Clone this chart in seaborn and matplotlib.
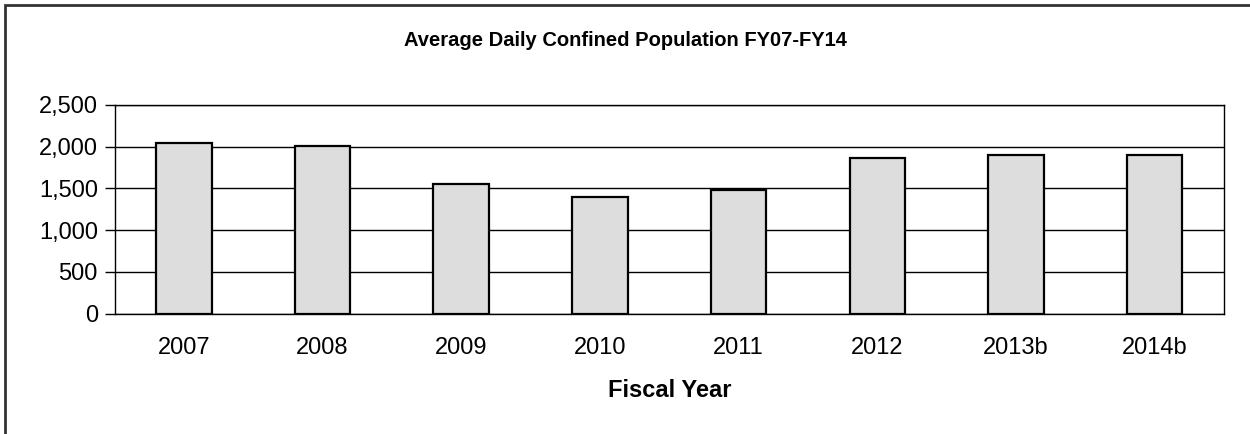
import matplotlib
matplotlib.use("Agg")
import matplotlib.pyplot as plt
import seaborn as sns
import pandas as pd
from matplotlib.ticker import FuncFormatter, FixedLocator
from matplotlib.patches import Rectangle

years = ["2007", "2008", "2009", "2010", "2011", "2012", "2013b", "2014b"]
population = [2048, 2012, 1556, 1397, 1477, 1868, 1900, 1900]
y_ticks = [0, 500, 1000, 1500, 2000, 2500]
title = "Average Daily Confined Population FY07-FY14"
x_label = "Fiscal Year"

sns.set_theme(style="white")
plt.rcParams['font.family'] = ['Liberation Sans', 'DejaVu Sans']
plt.rcParams['text.color'] = 'black'
plt.rcParams['axes.labelcolor'] = 'black'
plt.rcParams['xtick.color'] = 'black'
plt.rcParams['ytick.color'] = 'black'

df = pd.DataFrame({"year": years, "pop": population})

fig = plt.figure(figsize=(12.5, 4.34), dpi=100)
ax = fig.add_axes([114.5/1250, 1-313.5/434, (1224-114.5)/1250, (313.5-105)/434])

sns.barplot(data=df, x="year", y="pop", ax=ax, width=0.4, color="#dddddd",
            edgecolor="black", linewidth=1.6, saturation=1, zorder=3)

ax.set_ylim(0, 2500)
ax.set_xlim(-0.5, len(years) - 0.5)
ax.yaxis.set_major_locator(FixedLocator(y_ticks))
ax.yaxis.set_major_formatter(FuncFormatter(lambda v, p: f"{int(v):,}"))
ax.grid(axis="y", color="black", linewidth=1.0, zorder=0)
ax.set_axisbelow(True)

for s in ax.spines.values():
    s.set_visible(True)
    s.set_color("black")
    s.set_linewidth(1.0)

ax.tick_params(axis="x", which="major", length=0, labelsize=17, pad=17, colors="black")
ax.set_xticks([i + 0.5 for i in range(-1, len(years))], minor=True)
ax.tick_params(axis="x", which="minor", length=7, width=1, direction="out", color="black")
ax.tick_params(axis="y", which="major", length=7, width=1, direction="out", labelsize=17,
               pad=5, left=True, colors="black")

ax.set_xlabel(x_label, fontsize=17, fontweight="bold", labelpad=14, color="black")
ax.set_ylabel("")
fig.text(0.5, 1 - 41/434, title, ha="center", va="center", fontsize=14.5,
         fontweight="bold", color="black")

fig.patches.append(Rectangle((5/1250, -0.05), 1.2, 1 - 5/434 + 0.05, transform=fig.transFigure,
                             fill=False, edgecolor="#333333", linewidth=2, zorder=0))

fig.savefig("out.png", dpi=100)
